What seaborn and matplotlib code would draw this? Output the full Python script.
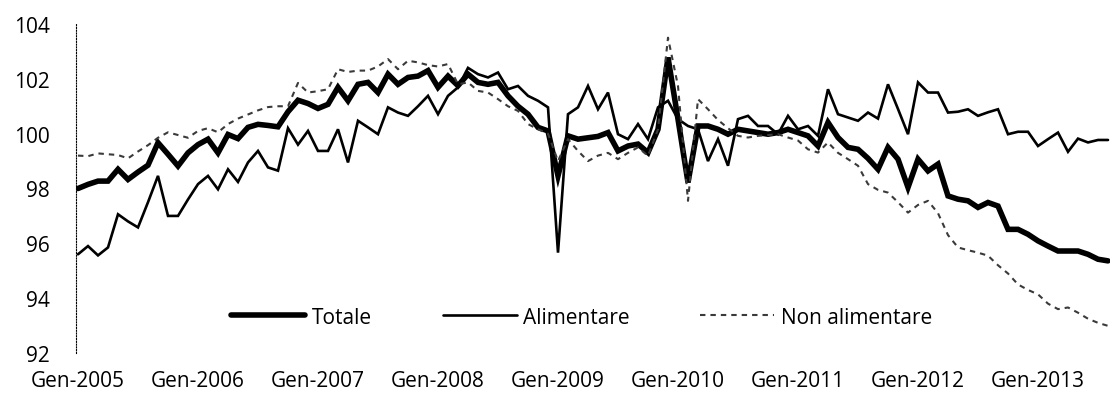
import numpy as np
import pandas as pd
import matplotlib
matplotlib.use("Agg")
import matplotlib.pyplot as plt
import seaborn as sns

# Monthly indices, Jan 2005 .. Aug 2013
totale = [
    98.00, 98.15, 98.27, 98.27, 98.70, 98.33, 98.60, 98.85, 99.67, 99.25,
    98.82, 99.30, 99.60, 99.80, 99.30, 99.97, 99.82, 100.23, 100.34, 100.30,
    100.25, 100.80, 101.22, 101.10, 100.92, 101.07, 101.69, 101.20, 101.80, 101.87,
    101.50, 102.17, 101.80, 102.05, 102.10, 102.30, 101.69, 102.10, 101.75, 102.17,
    101.87, 101.80, 101.87, 101.38, 101.00, 100.71, 100.23, 100.10, 98.46, 99.92,
    99.80, 99.85, 99.90, 100.04, 99.37, 99.55, 99.62, 99.31, 100.16, 102.78,
    100.53, 98.22, 100.28, 100.28, 100.16, 99.98, 100.16, 100.10, 100.04, 99.98,
    100.04, 100.16, 100.04, 99.92, 99.55, 100.41, 99.86, 99.50, 99.43, 99.10,
    98.70, 99.50, 99.07, 98.04, 99.07, 98.64, 98.89, 97.73, 97.61, 97.55,
    97.31, 97.49, 97.36, 96.51, 96.51, 96.33, 96.09, 95.90, 95.72, 95.72,
    95.72, 95.60, 95.42, 95.36,
]
alimentare = [
    95.60, 95.90, 95.56, 95.85, 97.06, 96.80, 96.58, 97.50, 98.46, 97.00,
    97.00, 97.60, 98.16, 98.46, 97.97, 98.70, 98.24, 98.95, 99.37, 98.77,
    98.65, 100.20, 99.60, 100.10, 99.37, 99.37, 100.16, 98.95, 100.47, 100.23,
    99.98, 100.96, 100.77, 100.65, 101.00, 101.38, 100.71, 101.38, 101.69, 102.40,
    102.17, 102.05, 102.23, 101.62, 101.74, 101.38, 101.20, 100.96, 95.66, 100.71,
    100.96, 101.74, 100.89, 101.50, 99.98, 99.80, 100.35, 99.80, 100.96, 101.20,
    100.53, 100.28, 100.16, 99.00, 99.80, 98.83, 100.53, 100.65, 100.28, 100.28,
    99.98, 100.65, 100.16, 100.28, 99.92, 101.62, 100.71, 100.59, 100.47, 100.77,
    100.55, 101.80, 100.90, 99.98, 101.87, 101.50, 101.50, 100.77, 100.80, 100.89,
    100.65, 100.78, 100.89, 99.98, 100.07, 100.07, 99.55, 99.80, 100.04, 99.34,
    99.82, 99.68, 99.77, 99.77,
]
non_alimentare = [
    99.20, 99.18, 99.28, 99.25, 99.22, 99.10, 99.35, 99.58, 99.85, 100.05,
    99.95, 99.85, 100.10, 100.20, 100.05, 100.35, 100.55, 100.70, 100.85, 100.97,
    101.00, 101.00, 101.85, 101.50, 101.55, 101.62, 102.35, 102.25, 102.30, 102.30,
    102.45, 102.72, 102.35, 102.66, 102.60, 102.50, 102.45, 102.54, 101.80, 101.87,
    101.56, 101.50, 101.26, 101.00, 100.83, 100.35, 100.16, 100.00, 99.00, 99.80,
    99.37, 99.00, 99.20, 99.30, 99.07, 99.30, 99.50, 99.19, 100.16, 103.50,
    101.74, 97.55, 101.26, 100.89, 100.50, 100.20, 99.92, 99.86, 99.92, 99.95,
    99.98, 99.86, 99.75, 99.43, 99.31, 99.68, 99.30, 99.07, 98.83, 98.16,
    97.95, 97.85, 97.50, 97.12, 97.40, 97.55, 97.10, 96.30, 95.85, 95.75,
    95.66, 95.55, 95.20, 94.90, 94.50, 94.30, 94.14, 93.80, 93.60, 93.66,
    93.47, 93.25, 93.10, 92.99,
]
series_names = ["Totale", "Alimentare", "Non alimentare"]
year_labels = ["Gen-2005", "Gen-2006", "Gen-2007", "Gen-2008", "Gen-2009",
               "Gen-2010", "Gen-2011", "Gen-2012", "Gen-2013"]
y_ticks = [92, 94, 96, 98, 100, 102, 104]

sns.set_theme(style="white")
plt.rcParams["font.family"] = ["Open Sans", "DejaVu Sans"]
plt.rcParams["text.color"] = "black"
plt.rcParams["axes.labelcolor"] = "black"
plt.rcParams["xtick.color"] = "black"
plt.rcParams["ytick.color"] = "black"

month = np.arange(len(totale))
df = pd.concat([
    pd.DataFrame({"mese": month, "valore": vals, "serie": name})
    for name, vals in zip(series_names, [totale, alimentare, non_alimentare])
], ignore_index=True)

styles = {
    "Totale": dict(color="black", linewidth=4.0, linestyle="-"),
    "Alimentare": dict(color="black", linewidth=1.9, linestyle="-"),
    "Non alimentare": dict(color="#3a3a3a", linewidth=1.5, linestyle=(0, (2.6, 2.4))),
}

W, H = 1110, 406
fig = plt.figure(figsize=(W / 100, H / 100), dpi=100)
ax = fig.add_axes([76 / W, 1 - 354 / H, 1034 / W, 329 / H])

for name in series_names:
    sub = df[df["serie"] == name]
    sns.lineplot(data=sub, x="mese", y="valore", ax=ax, label=name,
                 errorbar=None, solid_joinstyle="miter", **styles[name])

ax.set_xlim(-0.2, 103.2)
ax.set_ylim(92, 104)
ax.set_yticks(y_ticks)
ax.set_yticklabels([str(t) for t in y_ticks])
ax.set_xticks(np.arange(len(year_labels)) * 12)
ax.set_xticklabels(year_labels)
ax.set_xlabel("")
ax.set_ylabel("")
ax.tick_params(length=0, labelsize=15)
ax.tick_params(axis="y", pad=19)
ax.tick_params(axis="x", pad=12)

for side in ["top", "right", "bottom"]:
    ax.spines[side].set_visible(False)
ax.spines["left"].set_linestyle((0, (1, 1.5)))
ax.spines["left"].set_linewidth(0.8)
ax.spines["left"].set_color("black")

ax.legend(loc="center", bbox_to_anchor=(0.489, 0.109), ncol=3, frameon=False,
          handlelength=3.55, handletextpad=0.3, columnspacing=3.4, fontsize=15)

fig.savefig("out.png", dpi=100)
